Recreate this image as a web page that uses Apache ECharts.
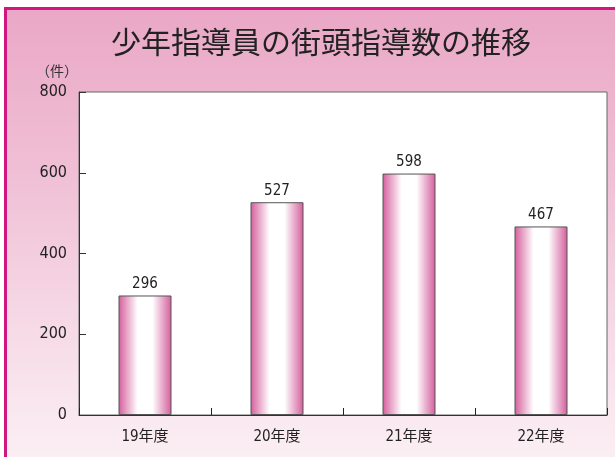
<!DOCTYPE html>
<html>
<head>
<meta charset="utf-8">
<script src="https://cdn.jsdelivr.net/npm/echarts@6/dist/echarts.min.js"></script>
<style>
  html, body { margin: 0; padding: 0; }
  body { width: 615px; height: 457px; overflow: hidden; position: relative; background: #fff; }
  /* 額縁：上と左だけ見える */
  #frame {
    position: absolute; left: 4px; top: 7px; width: 640px; height: 480px;
    border-top: 3px solid #d2167f; border-left: 3px solid #d2167f;
    background: linear-gradient(to bottom, #eaa8c6 0%, #f0c0d6 35%, #f7dde8 70%, #fcf4f7 100%);
  }
  #chart { position: absolute; left: 0; top: 0; width: 615px; height: 457px; }
</style>
</head>
<body>
<div id="frame"></div>
<div id="chart"></div>
<script>
// データ
const categories = ["19年度", "20年度", "21年度", "22年度"];
const counts = [296, 527, 598, 467];
const yTicks = [0, 200, 400, 600, 800];

const numFont = '"Liberation Sans Narrow", "DejaVu Sans Condensed", "Liberation Sans", "Noto Sans CJK JP", sans-serif';

var myChart = echarts.init(document.getElementById("chart"));
var option = {
  backgroundColor: "transparent",
  title: {
    text: "少年指導員の街頭指導数の推移",
    left: 316,
    textAlign: "center",
    top: 22,
    textStyle: { fontFamily: '"Noto Sans CJK JP", sans-serif', fontSize: 30, fontWeight: "normal", color: "#222" },
  },
  graphic: [
    {
      type: "text",
      left: 36,
      top: 64,
      style: { text: "（件）", font: '14px "Noto Sans CJK JP", sans-serif', fill: "#333" },
    },
  ],
  grid: {
    left: 79,
    right: 8,
    top: 92,
    bottom: 42,
    show: true,
    backgroundColor: "#fff",
    borderColor: "#666",
    borderWidth: 1,
  },
  xAxis: {
    type: "category",
    data: categories,
    z: 5,
    axisLine: { lineStyle: { color: "#333" } },
    axisTick: { show: true, inside: true, length: 7, interval: 0, lineStyle: { color: "#222", width: 1 } },
    axisLabel: { color: "#222", fontSize: 15, fontFamily: numFont, margin: 15 },
  },
  yAxis: {
    type: "value",
    min: yTicks[0],
    max: yTicks[yTicks.length - 1],
    interval: 200,
    axisLine: { show: true, lineStyle: { color: "#333" } },
    axisTick: { show: true, inside: true, length: 7, lineStyle: { color: "#333" } },
    axisLabel: { color: "#222", fontSize: 16, fontFamily: numFont, margin: 12 },
    splitLine: { show: false },
  },
  series: [
    {
      type: "bar",
      data: counts,
      barWidth: 53,
      itemStyle: {
        color: new echarts.graphic.LinearGradient(0, 0, 1, 0, [
          { offset: 0, color: "#d45d9b" },
          { offset: 0.36, color: "#ffffff" },
          { offset: 0.64, color: "#ffffff" },
          { offset: 1, color: "#d45d9b" },
        ]),
        borderColor: "#555",
        borderWidth: 1,
      },
      label: { show: true, position: "top", color: "#222", fontSize: 15, fontFamily: numFont, distance: 4 },
    },
  ],
};
myChart.setOption(option);
</script>
</body>
</html>
